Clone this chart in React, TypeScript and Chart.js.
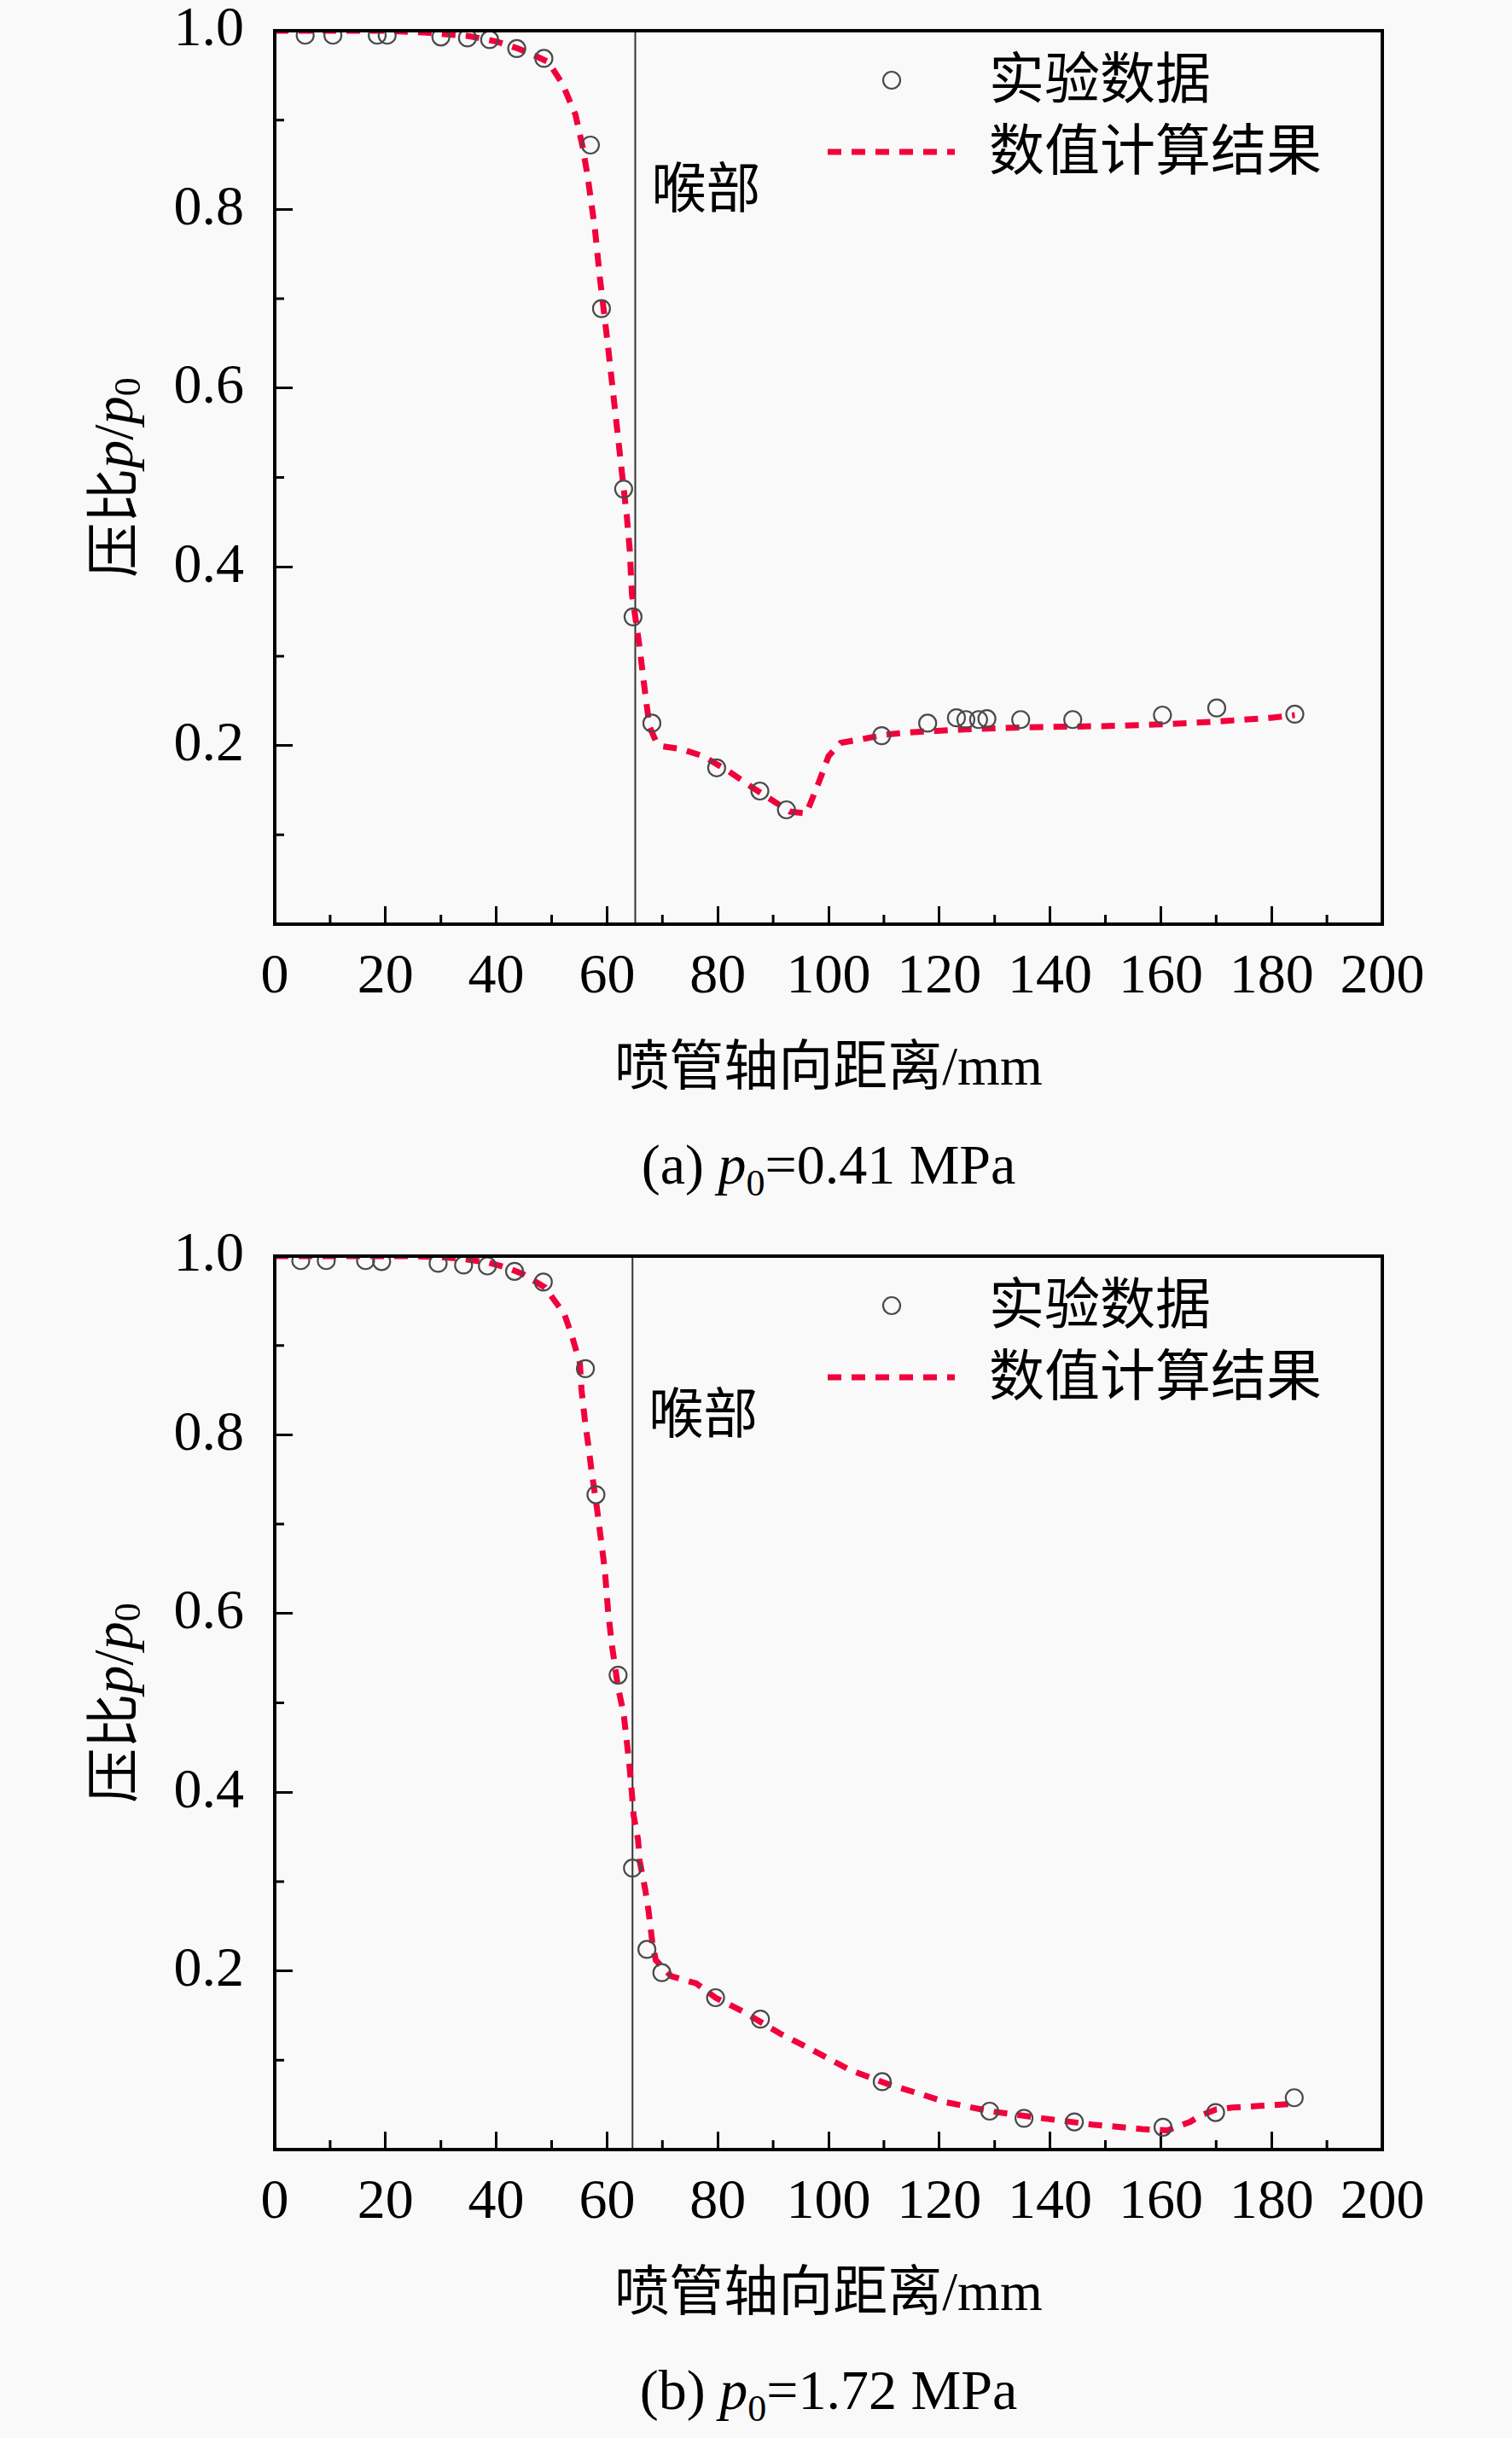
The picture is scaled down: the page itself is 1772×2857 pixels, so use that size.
import { useEffect, useRef } from "react";
import { Chart, registerables } from "chart.js";

Chart.register(...registerables);

const SERIF = "'Liberation Serif', 'Times New Roman', 'Noto Sans CJK SC', serif";
const RED = "#f2003c";
const CIRCLE = "#4a4a4a";

// (a) p0 = 0.41 MPa
const expXa = [5.5, 10.5, 18.5, 20.3, 30.0, 34.8, 38.8, 43.7, 48.6, 57.0, 59.0, 63.0, 64.7, 68.1, 79.8, 87.6, 92.4, 109.6, 117.9, 123.1, 124.8, 127.1, 128.6, 134.7, 144.1, 160.3, 170.1, 184.2];
const expYa = [0.995, 0.995, 0.995, 0.995, 0.993, 0.992, 0.99, 0.98, 0.969, 0.872, 0.689, 0.487, 0.344, 0.225, 0.175, 0.149, 0.128, 0.211, 0.225, 0.231, 0.229, 0.229, 0.23, 0.229, 0.229, 0.234, 0.242, 0.235];
const numXa = [0, 20, 27, 35, 40, 44, 47, 49.4, 52, 54.3, 55.6, 56.5, 57.8, 58.7, 60.1, 61.4, 62.7, 63.6, 64.1, 64.5, 65.3, 65.9, 66.5, 67.1, 67.7, 68.8, 70, 73.4, 77.4, 82, 86, 90, 93, 96, 98.2, 100, 102.2, 106.8, 110, 115.4, 124.6, 133.7, 142.9, 152.1, 161.5, 170.6, 179.8, 184.2];
const numYa = [1.0, 1.0, 0.998, 0.994, 0.988, 0.98, 0.972, 0.965, 0.94, 0.906, 0.87, 0.837, 0.779, 0.724, 0.651, 0.578, 0.505, 0.455, 0.419, 0.369, 0.336, 0.309, 0.278, 0.248, 0.221, 0.205, 0.199, 0.196, 0.188, 0.171, 0.154, 0.138, 0.126, 0.124, 0.158, 0.188, 0.203, 0.208, 0.212, 0.215, 0.218, 0.22, 0.221, 0.222, 0.224, 0.227, 0.231, 0.234];
const throatA = 65.1;

// (b) p0 = 1.72 MPa
const expXb = [4.7, 9.3, 16.4, 19.3, 29.5, 34.1, 38.4, 43.3, 48.5, 56.1, 58.0, 62.0, 64.6, 67.2, 69.9, 79.6, 87.7, 109.7, 129.1, 135.3, 144.4, 160.4, 169.9, 184.1];
const expYb = [0.995, 0.995, 0.995, 0.994, 0.992, 0.99, 0.989, 0.983, 0.971, 0.874, 0.733, 0.531, 0.315, 0.224, 0.198, 0.17, 0.146, 0.076, 0.043, 0.035, 0.031, 0.025, 0.0415, 0.058];
const numXb = [0, 25, 30, 33.7, 38.5, 42, 44.8, 48.8, 52.3, 53.7, 55.1, 55.4, 56.1, 56.5, 57.2, 58.2, 58.9, 59.6, 60.2, 60.9, 62.0, 63.0, 64.0, 64.5, 64.8, 65.6, 65.9, 66.9, 67.5, 68.2, 68.8, 71.6, 76.1, 79.6, 84.4, 91.5, 96.6, 103.9, 111.3, 116.7, 121.2, 129.1, 137.4, 147.6, 156.6, 161.2, 165.3, 167.1, 170.0, 172.9, 177.9, 183.5];
const numYb = [1.0, 1.0, 0.999, 0.997, 0.993, 0.987, 0.98, 0.965, 0.935, 0.91, 0.88, 0.85, 0.811, 0.794, 0.76, 0.717, 0.683, 0.649, 0.602, 0.564, 0.517, 0.488, 0.433, 0.398, 0.374, 0.347, 0.323, 0.291, 0.267, 0.231, 0.212, 0.194, 0.186, 0.17, 0.155, 0.129, 0.113, 0.089, 0.072, 0.062, 0.053, 0.043, 0.036, 0.028, 0.023, 0.0215, 0.031, 0.038, 0.045, 0.047, 0.049, 0.051];
const throatB = 64.6;

const xMinorTicks = [10, 30, 50, 70, 90, 110, 130, 150, 170, 190];
const yMinorTicks = [0.1, 0.3, 0.5, 0.7, 0.9];
const legendLabels = ["实验数据", "数值计算结果"];
const throatLabel = "喉部";
const xTitle = "喷管轴向距离/mm";
const captionTags = ["(a)", "(b)"];
const captionPressures = ["0.41", "1.72"];

function decorPlugin(throat: number) {
  return {
    id: "decor",
    afterDatasetsDraw(chart: any) {
      const { ctx, chartArea: a, scales } = chart;
      ctx.save();
      ctx.strokeStyle = "#000";
      ctx.lineWidth = 3;
      ctx.beginPath();
      xMinorTicks.forEach((v) => {
        const px = scales.x.getPixelForValue(v);
        ctx.moveTo(px, a.bottom);
        ctx.lineTo(px, a.bottom - 11);
      });
      yMinorTicks.forEach((v) => {
        const py = scales.y.getPixelForValue(v);
        ctx.moveTo(a.left, py);
        ctx.lineTo(a.left + 11, py);
      });
      ctx.stroke();
      ctx.lineWidth = 4;
      ctx.strokeRect(a.left, a.top, a.right - a.left, a.bottom - a.top);
      ctx.restore();
    },
    afterDraw(chart: any) {
      const { ctx, chartArea: a, scales } = chart;
      ctx.save();
      ctx.fillStyle = "#000";
      ctx.textBaseline = "middle";

      // y tick labels, from the y scale's own ticks
      ctx.font = `66px ${SERIF}`;
      ctx.textAlign = "right";
      scales.y.ticks.forEach((t: any) => {
        if (Math.abs(t.value) < 1e-9) return;
        ctx.fillText(Number(t.value).toFixed(1), a.left - 36, scales.y.getPixelForValue(t.value));
      });

      ctx.textAlign = "left";
      // throat label
      ctx.font = `64px ${SERIF}`;
      ctx.fillText(throatLabel, scales.x.getPixelForValue(throat) + 19, a.top + 190);

      // legend
      ctx.font = `65px ${SERIF}`;
      ctx.beginPath();
      ctx.arc(a.left + 723, a.top + 58, 10, 0, Math.PI * 2);
      ctx.strokeStyle = CIRCLE;
      ctx.lineWidth = 2.2;
      ctx.stroke();
      ctx.fillText(legendLabels[0], a.left + 837, a.top + 62);
      ctx.beginPath();
      ctx.setLineDash([16, 12]);
      ctx.strokeStyle = RED;
      ctx.lineWidth = 7;
      ctx.moveTo(a.left + 648, a.top + 142);
      ctx.lineTo(a.left + 797, a.top + 142);
      ctx.stroke();
      ctx.setLineDash([]);
      ctx.fillText(legendLabels[1], a.left + 837, a.top + 146);

      // y title: 压比p/p0
      const parts = [
        { t: "压比", f: `64px ${SERIF}`, dy: 0 },
        { t: "p", f: `italic 66px ${SERIF}`, dy: 0 },
        { t: "/", f: `66px ${SERIF}`, dy: 0 },
        { t: "p", f: `italic 66px ${SERIF}`, dy: 0 },
        { t: "0", f: `44px ${SERIF}`, dy: 14 },
      ];
      let total = 0;
      parts.forEach((p) => {
        ctx.font = p.f;
        total += ctx.measureText(p.t).width;
      });
      ctx.translate(138, (a.top + a.bottom) / 2);
      ctx.rotate(-Math.PI / 2);
      let cx = -total / 2;
      parts.forEach((p) => {
        ctx.font = p.f;
        ctx.fillText(p.t, cx, p.dy);
        cx += ctx.measureText(p.t).width;
      });
      ctx.restore();
    },
  };
}

function Panel(props: {
  top: number;
  expX: number[];
  expY: number[];
  numX: number[];
  numY: number[];
  throat: number;
  tag: string;
  p0: string;
}) {
  const { top, expX, expY, numX, numY, throat, tag, p0 } = props;
  const canvasRef = useRef<HTMLCanvasElement>(null);

  useEffect(() => {
    const ctx = canvasRef.current?.getContext("2d");
    if (!ctx) return;
    const chart = new Chart(ctx, {
      type: "scatter",
      data: {
        datasets: [
          {
            label: legendLabels[0],
            data: expX.map((x, i) => ({ x, y: expY[i] })),
            showLine: false,
            pointStyle: "circle",
            pointRadius: 10,
            pointBorderWidth: 2.2,
            pointBorderColor: CIRCLE,
            pointBackgroundColor: "rgba(0,0,0,0)",
            order: 0,
          },
          {
            label: legendLabels[1],
            data: numX.map((x, i) => ({ x, y: numY[i] })),
            showLine: true,
            borderColor: RED,
            borderWidth: 7,
            borderDash: [16, 12],
            pointRadius: 0,
            tension: 0,
            order: 1,
          },
          {
            label: throatLabel,
            data: [
              { x: throat, y: 0 },
              { x: throat, y: 1 },
            ],
            showLine: true,
            borderColor: "#333",
            borderWidth: 2,
            pointRadius: 0,
            order: 2,
          },
        ],
      } as any,
      options: {
        animation: false,
        responsive: true,
        maintainAspectRatio: false,
        devicePixelRatio: 1,
        layout: { padding: { top: 36, right: 152, left: 0, bottom: 0 } },
        plugins: { legend: { display: false }, tooltip: { enabled: false } },
        scales: {
          x: {
            type: "linear",
            min: 0,
            max: 200,
            border: { display: false },
            grid: { drawOnChartArea: false, drawTicks: true, tickLength: -21, tickWidth: 3, tickColor: "#000" },
            ticks: {
              stepSize: 20,
              autoSkip: false,
              maxRotation: 0,
              minRotation: 0,
              padding: 51,
              color: "#000",
              font: { family: SERIF, size: 66, lineHeight: 1 },
            },
            title: {
              display: true,
              text: xTitle,
              color: "#000",
              padding: 0,
              font: { family: SERIF, size: 64, lineHeight: 1.2 },
            },
            afterFit: (s: any) => {
              s.height = 210;
            },
          },
          y: {
            type: "linear",
            min: 0,
            max: 1,
            border: { display: false },
            grid: { drawOnChartArea: false, drawTicks: true, tickLength: -21, tickWidth: 3, tickColor: "#000" },
            ticks: { stepSize: 0.2, display: false },
            afterFit: (s: any) => {
              s.width = 322;
            },
          },
        },
      } as any,
      plugins: [decorPlugin(throat)],
    });
    return () => chart.destroy();
  }, [expX, expY, numX, numY, throat]);

  return (
    <>
      <div style={{ position: "absolute", left: 0, top, width: 1772, height: 1293 }}>
        <canvas ref={canvasRef} />
      </div>
      <div
        style={{
          position: "absolute",
          left: 971,
          top: top + 1365 - 40,
          transform: "translateX(-50%)",
          whiteSpace: "nowrap",
          fontFamily: SERIF,
          fontSize: 66,
          lineHeight: "80px",
          color: "#000",
        }}
      >
        {tag} <i>p</i>
        <sub style={{ fontSize: 44 }}>0</sub>={p0} MPa
      </div>
    </>
  );
}

export default function App() {
  return (
    <div
      style={{
        position: "absolute",
        left: 0,
        top: 0,
        width: 1772,
        height: 2857,
        background: "#f9f9f9",
        overflow: "hidden",
      }}
    >
      <Panel top={0} expX={expXa} expY={expYa} numX={numXa} numY={numYa} throat={throatA} tag={captionTags[0]} p0={captionPressures[0]} />
      <Panel top={1436} expX={expXb} expY={expYb} numX={numXb} numY={numYb} throat={throatB} tag={captionTags[1]} p0={captionPressures[1]} />
    </div>
  );
}
